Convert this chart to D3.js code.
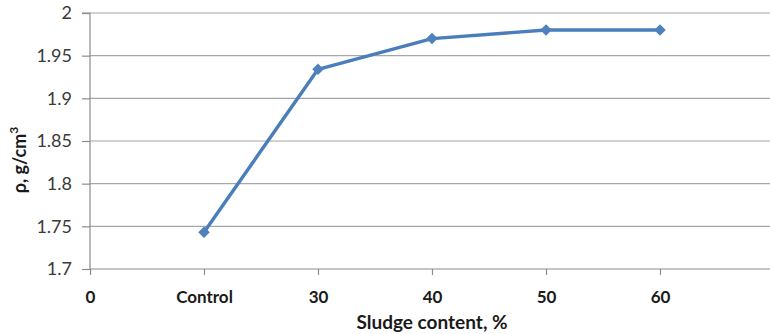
<!DOCTYPE html>
<html>
<head>
<meta charset="utf-8">
<script src="https://cdn.jsdelivr.net/npm/d3@7"></script>
<style>
  html, body { margin: 0; padding: 0; background: #fff; }
  svg { display: block; }
  text { font-family: Lato, "Open Sans", sans-serif; }
</style>
</head>
<body>
<svg id="chart" width="770" height="334"></svg>
<script>
// Density versus sludge content
const categories = ["Control", "30", "40", "50", "60"];
const density = [1.743, 1.934, 1.970, 1.980, 1.980];
const xTickLabels = ["0", "Control", "30", "40", "50", "60"];
const yTicks = [1.7, 1.75, 1.8, 1.85, 1.9, 1.95, 2];

const svg = d3.select("#chart");
const W = 770, H = 334;
const plotLeft = 90, plotRight = 774, plotTop = 13, plotBottom = 269;

// x positions: slot 0 is the origin label, categories follow in slots 1..5
const x = d3.scaleLinear().domain([0, 6]).range([plotLeft, plotRight]);
const y = d3.scaleLinear().domain([1.7, 2]).range([plotBottom, plotTop]);

// horizontal gridlines
svg.append("g")
  .selectAll("line")
  .data(yTicks.filter(v => v > 1.7))
  .join("line")
  .attr("x1", plotLeft).attr("x2", W)
  .attr("y1", d => y(d)).attr("y2", d => y(d))
  .attr("stroke", "#a6a6a6").attr("stroke-width", 1.2);

// y axis
const yAxis = d3.axisLeft(y).tickValues(yTicks).tickSize(8).tickPadding(10)
  .tickFormat(d => String(+d.toFixed(2)));
const gy = svg.append("g").attr("transform", `translate(${plotLeft},0)`).call(yAxis);
gy.select(".domain").attr("stroke", "#8c8c8c").attr("stroke-width", 1.2).attr("d", `M-8,${plotTop}H0V${plotBottom}`);
gy.selectAll(".tick line").attr("stroke", "#8c8c8c").attr("stroke-width", 1.2);
gy.selectAll(".tick text").attr("font-size", 18).attr("fill", "#3a3a3a")
  .attr("font-family", "Lato, sans-serif");

// x axis
const xAxis = d3.axisBottom(x).tickValues(d3.range(xTickLabels.length))
  .tickSize(6).tickPadding(16).tickFormat(i => xTickLabels[i]);
const gx = svg.append("g").attr("transform", `translate(0,${plotBottom})`).call(xAxis);
gx.select(".domain").attr("stroke", "#8c8c8c").attr("stroke-width", 1.2).attr("d", `M${plotLeft},0H${W}`);
gx.selectAll(".tick line").attr("stroke", "#8c8c8c").attr("stroke-width", 1.2);
gx.selectAll(".tick text").attr("font-size", 17).attr("font-weight", "bold")
  .attr("fill", "#1a1a1a").attr("font-family", "Lato, sans-serif");

// axis titles
svg.append("text")
  .attr("x", (plotLeft + plotRight) / 2).attr("y", 329)
  .attr("text-anchor", "middle")
  .attr("font-size", 19).attr("font-weight", "bold").attr("fill", "#1a1a1a")
  .text("Sludge content, %");

const yTitle = svg.append("text")
  .attr("transform", "translate(26,160) rotate(-90)")
  .attr("text-anchor", "middle")
  .attr("font-size", 18).attr("font-weight", "bold").attr("fill", "#1a1a1a");
yTitle.append("tspan").text("ρ, g/cm");
yTitle.append("tspan").attr("font-size", 12).attr("dy", -8).text("3");

// series line and markers
const pts = categories.map((c, i) => ({ c, v: density[i], xi: i + 1 }));
svg.append("path")
  .datum(pts)
  .attr("fill", "none")
  .attr("stroke", "#4a7ebb")
  .attr("stroke-width", 3.4)
  .attr("stroke-linejoin", "round")
  .attr("d", d3.line().x(d => x(d.xi)).y(d => y(d.v)));

svg.append("g")
  .selectAll("path")
  .data(pts)
  .join("path")
  .attr("transform", d => `translate(${x(d.xi)},${y(d.v)}) rotate(45)`)
  .attr("d", d3.symbol(d3.symbolSquare, 66))
  .attr("fill", "#4f81bd");
</script>
</body>
</html>
